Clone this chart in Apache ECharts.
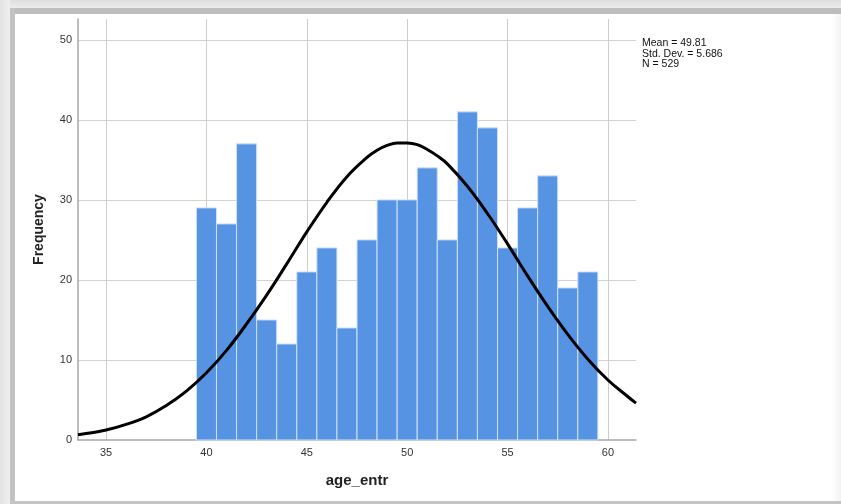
<!DOCTYPE html>
<html>
<head>
<meta charset="utf-8">
<script src="https://cdn.jsdelivr.net/npm/echarts@6/dist/echarts.min.js"></script>
<style>
  body { margin: 0; background: #fff; }
  #wrap { position: relative; width: 841px; height: 504px; background: #fff; overflow: hidden; }
  .fr { position: absolute; }
  #chart { position: absolute; left: 0; top: 0; width: 841px; height: 504px; }
</style>
</head>
<body>
<div id="wrap">
  <!-- picture frame / shadow -->
  <div class="fr" style="left:0;top:0;width:841px;height:8px;background:linear-gradient(#dedede,#ececec)"></div>
  <div class="fr" style="left:0;top:8px;width:841px;height:6px;background:#bdbdbd"></div>
  <div class="fr" style="left:0;top:0;width:10px;height:504px;background:linear-gradient(to right,#e2e2e2,#efefef)"></div>
  <div class="fr" style="left:10px;top:8px;width:5px;height:496px;background:#c2c2c2"></div>
  <div class="fr" style="left:10px;top:501px;width:831px;height:3px;background:#c4c4c4"></div>
  <div class="fr" style="left:832px;top:14px;width:9px;height:487px;background:linear-gradient(to right,#ffffff,#f2f2f2)"></div>
  <div id="chart"></div>
</div>
<script>
window.onload = function(){
	var font = 'Arial, "Liberation Sans", sans-serif';

	/* histogram bins (centre of each 1-year bin) and counts */
	var binCenters = [40, 41, 42, 43, 44, 45, 46, 47, 48, 49, 50, 51, 52, 53, 54, 55, 56, 57, 58, 59];
	var binCounts  = [29, 27, 37, 15, 12, 21, 24, 14, 25, 30, 30, 34, 25, 41, 39, 24, 29, 33, 19, 21];

	/* normal curve */
	var curveX = [33.6, 35, 36, 37, 38, 39, 40, 41, 42, 43, 44, 45, 46, 47, 48, 48.5, 49, 49.5, 50,
	              50.5, 51, 51.5, 52, 53, 54, 55, 56, 57, 58, 59, 60, 61, 61.4];
	var curveY = [0.65, 1.25, 1.95, 2.9, 4.3, 6.1, 8.4, 11.2, 14.5, 18.1, 22.0, 26.0, 29.7, 32.9, 35.3, 36.2, 36.8, 37.1, 37.1,
	              36.9, 36.3, 35.5, 34.5, 31.7, 28.3, 24.5, 20.5, 16.7, 13.2, 10.1, 7.5, 5.4, 4.6];

	var statLines = ['Mean = 49.81', 'Std. Dev. = 5.686', 'N = 529'];

	var barData = binCenters.map(function(x, i){ return [x, binCounts[i]]; });
	var curveData = curveX.map(function(x, i){ return [x, curveY[i]]; });

	var myChart = echarts.init(document.getElementById('chart'));

	var option = {
		backgroundColor: 'transparent',
		animation: false,
		grid: { left: 78, top: 19, right: 205, bottom: 64, containLabel: false },
		xAxis: {
			type: 'value',
			min: 33.6,
			max: 61.4,
			splitNumber: 5,
			minInterval: 5,
			maxInterval: 5,
			name: 'age_entr',
			nameLocation: 'middle',
			nameGap: 33,
			nameTextStyle: { fontFamily: font, fontSize: 15, fontWeight: 'bold', color: '#222' },
			axisLine: { show: true, onZero: false, lineStyle: { color: '#a6a6a6', width: 1.5 } },
			axisTick: { show: false },
			axisLabel: { showMinLabel: false, showMaxLabel: false, margin: 7, fontFamily: font, fontSize: 11, color: '#333' },
			splitLine: { show: true, showMinLine: false, showMaxLine: false, lineStyle: { color: '#cdcdcd', width: 1 } }
		},
		yAxis: {
			type: 'value',
			min: 0,
			max: 52.6,
			interval: 10,
			name: 'Frequency',
			nameLocation: 'middle',
			nameGap: 32,
			nameTextStyle: { fontFamily: font, fontSize: 14, fontWeight: 'bold', color: '#222' },
			axisLine: { show: true, lineStyle: { color: '#a6a6a6', width: 1.5 } },
			axisTick: { show: false },
			axisLabel: { showMaxLabel: false, margin: 6, fontFamily: font, fontSize: 11, color: '#333' },
			splitLine: { show: true, showMinLine: false, showMaxLine: false, lineStyle: { color: '#d3d3d3', width: 1 } }
		},
		graphic: [{
			type: 'text',
			left: 642,
			top: 38,
			style: {
				text: statLines.join('\n'),
				font: '10.5px ' + font,
				lineHeight: 10.5,
				fill: '#111'
			}
		}],
		series: [
			{
				type: 'custom',
				data: barData,
				encode: { x: 0, y: 1 },
				z: 2,
				renderItem: function(params, api){
					var x = api.value(0), y = api.value(1);
					var p0 = api.coord([x - 0.5, y]);
					var p1 = api.coord([x + 0.5, 0]);
					return {
						type: 'rect',
						shape: { x: p0[0], y: p0[1], width: p1[0] - p0[0], height: p1[1] - p0[1] },
						style: { fill: '#5694e3', stroke: '#d0e0f6', lineWidth: 1 }
					};
				}
			},
			{
				type: 'line',
				data: curveData,
				smooth: 0.4,
				showSymbol: false,
				z: 3,
				lineStyle: { color: '#000', width: 3 }
			}
		]
	};
	myChart.setOption(option);
}
</script>
</body>
</html>
